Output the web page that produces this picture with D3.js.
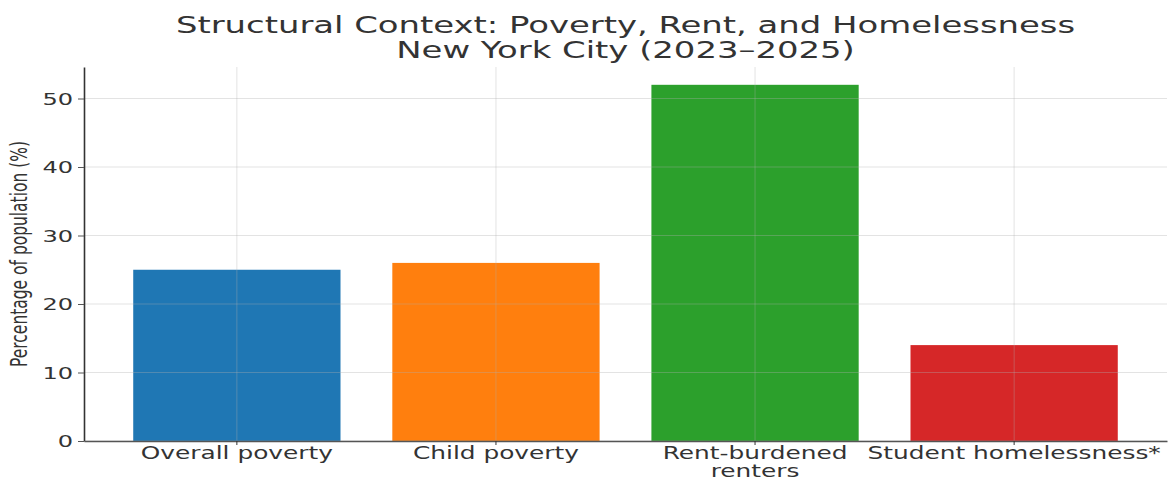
<!doctype html>
<html lang="en">
<head>
<meta charset="utf-8">
<script src="https://cdn.jsdelivr.net/npm/d3@7/dist/d3.min.js"></script>
<style>
    body { margin: 0; background: #fff; }
    text { font-family: "DejaVu Sans", sans-serif; fill: #333; }
</style>
</head>
<body>
<svg id="chart" width="1168" height="480"></svg>
<script>
    // data
    var categories = ["Overall poverty", "Child poverty", "Rent-burdened\nrenters", "Student homelessness*"];
    var values = [25, 26, 52, 14];
    var colors = ["#1f77b4", "#ff7f0e", "#2ca02c", "#d62728"];
    var yTicks = [0, 10, 20, 30, 40, 50];
    var titleLines = ["Structural Context: Poverty, Rent, and Homelessness", "New York City (2023\u20132025)"];
    var yLabel = "Percentage of population (%)";

    // the picture is stretched sideways, so text gets the same stretch
    var SX = 1.46;

    var margin = {top: 67, right: 1, bottom: 39, left: 84},
        width = 1168 - margin.left - margin.right,
        height = 480 - margin.top - margin.bottom;

    var svg = d3.select("#chart");
    var g = svg.append("g")
        .attr("transform", "translate(" + margin.left + "," + margin.top + ")");

    var x = d3.scaleBand()
        .domain(categories)
        .range([0, width])
        .paddingInner(0.2)
        .paddingOuter(0.19);

    var y = d3.scaleLinear()
        .domain([0, d3.max(values) * 1.05])
        .range([height, 0]);

    // bars
    g.selectAll(".bar")
        .data(values)
        .enter().append("rect")
        .attr("class", "bar")
        .attr("x", function(d, i) { return x(categories[i]); })
        .attr("y", function(d) { return y(d); })
        .attr("width", x.bandwidth())
        .attr("height", function(d) { return height - y(d); })
        .attr("fill", function(d, i) { return colors[i]; });

    // grid on top of the bars, faint
    var grid = g.append("g").attr("class", "grid")
        .attr("stroke", "#b0b0b0")
        .attr("stroke-opacity", 0.35)
        .attr("stroke-width", 1);
    grid.selectAll(".gy")
        .data(yTicks)
        .enter().append("line")
        .attr("x1", 0).attr("x2", width)
        .attr("y1", function(d) { return y(d); })
        .attr("y2", function(d) { return y(d); });
    grid.selectAll(".gx")
        .data(categories)
        .enter().append("line")
        .attr("x1", function(d) { return x(d) + x.bandwidth() / 2; })
        .attr("x2", function(d) { return x(d) + x.bandwidth() / 2; })
        .attr("y1", 0).attr("y2", height);

    // y axis
    var yAxis = g.append("g")
        .call(d3.axisLeft(y).tickValues(yTicks).tickSize(6).tickSizeOuter(0));
    yAxis.select(".domain").attr("stroke", "#333").attr("stroke-width", 1.6);
    yAxis.selectAll(".tick line").attr("stroke", "#555").attr("stroke-width", 1);
    yAxis.selectAll(".tick text")
        .attr("x", -11 / SX)
        .attr("dy", "0.36em")
        .attr("transform", "scale(" + SX + ",1)")
        .style("font-size", "16.5px");

    // x axis
    var xAxis = g.append("g")
        .attr("transform", "translate(0," + height + ")")
        .call(d3.axisBottom(x).tickSize(4).tickSizeOuter(0));
    xAxis.select(".domain").attr("stroke", "#555").attr("stroke-width", 1.4);
    xAxis.selectAll(".tick line").attr("stroke", "#333");
    xAxis.selectAll(".tick text").remove();
    xAxis.selectAll(".tick").each(function(d) {
        var lines = d.split("\n");
        var t = d3.select(this).append("text")
            .attr("text-anchor", "middle")
            .attr("transform", "scale(" + SX + ",1)")
            .style("font-size", "17px");
        lines.forEach(function(line, i) {
            t.append("tspan")
                .attr("x", 0)
                .attr("y", 18 + i * 18)
                .text(line);
        });
    });

    // title
    var title = svg.append("text")
        .attr("text-anchor", "middle")
        .attr("transform", "translate(" + (margin.left + width / 2) + ",0) scale(" + SX + ",1)")
        .style("font-size", "23.2px");
    titleLines.forEach(function(line, i) {
        title.append("tspan")
            .attr("x", 0)
            .attr("y", 33 + i * 25)
            .text(line);
    });

    // y label
    svg.append("text")
        .attr("text-anchor", "middle")
        .attr("transform", "translate(27," + (margin.top + height / 2) + ") scale(" + SX + ",1) rotate(-90)")
        .style("font-size", "15.5px")
        .text(yLabel);
</script>
</body>
</html>
